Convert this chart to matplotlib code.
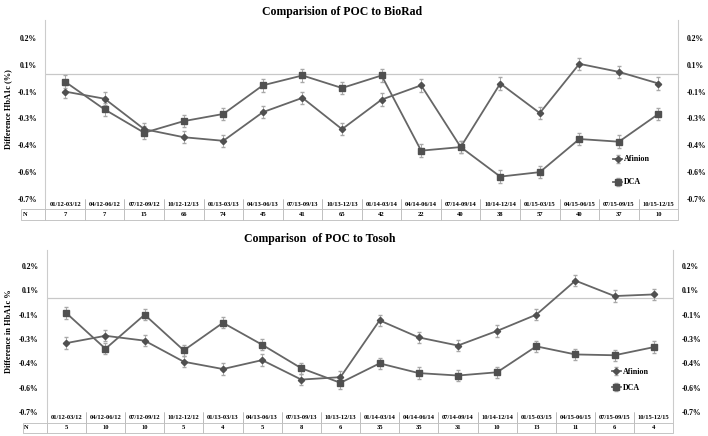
import matplotlib
matplotlib.use('Agg')
import matplotlib.pyplot as plt

# periodos (colunas da tabela)
periodos_biorad = ['01/12-03/12', '04/12-06/12', '07/12-09/12', '10/12-12/13', '01/13-03/13', '04/13-06/13',
                   '07/13-09/13', '10/13-12/13', '01/14-03/14', '04/14-06/14', '07/14-09/14', '10/14-12/14',
                   '01/15-03/15', '04/15-06/15', '07/15-09/15', '10/15-12/15']
periodos_tosoh = ['01/12-03/12', '04/12-06/12', '07/12-09/12', '10/12-12/12', '01/13-03/13', '04/13-06/13',
                  '07/13-09/13', '10/13-12/13', '01/14-03/14', '04/14-06/14', '07/14-09/14', '10/14-12/14',
                  '01/15-03/15', '04/15-06/15', '07/15-09/15', '10/15-12/15']

n_biorad = [7, 7, 15, 66, 74, 45, 41, 65, 42, 22, 40, 38, 57, 40, 37, 10]
n_tosoh = [5, 10, 10, 5, 4, 5, 8, 6, 35, 35, 31, 10, 13, 11, 6, 4]

# diferencas (%)
afinion_biorad = [-0.10, -0.14, -0.31, -0.355, -0.375, -0.215, -0.135, -0.31, -0.145, -0.065,
                  -0.41, -0.055, -0.22, 0.055, 0.01, -0.055]
dca_biorad = [-0.045, -0.20, -0.33, -0.265, -0.225, -0.065, -0.01, -0.08, -0.01, -0.43,
              -0.41, -0.575, -0.55, -0.365, -0.38, -0.225]
afinion_tosoh = [-0.275, -0.23, -0.26, -0.39, -0.435, -0.38, -0.50, -0.485, -0.135, -0.24,
                 -0.29, -0.20, -0.10, 0.11, 0.015, 0.025]
dca_tosoh = [-0.09, -0.31, -0.10, -0.32, -0.15, -0.285, -0.43, -0.52, -0.40, -0.46,
             -0.475, -0.455, -0.295, -0.345, -0.35, -0.30]
erro = 0.035

# valores dos ticks e os rotulos como aparecem no grafico
yticks = [0.2, 0.05, -0.1, -0.25, -0.4, -0.55, -0.7]
ytick_labels = ['0.2%', '0.1%', '-0.1%', '-0.3%', '-0.4%', '-0.6%', '-0.7%']

plt.rcParams['font.family'] = 'Liberation Serif'
plt.rcParams['font.weight'] = 'bold'

fig = plt.figure(figsize=(7.08, 4.36), dpi=100)

linha = '#666666'
marc = '#505050'


def painel(rect, afinion, dca, periodos, n, titulo, titulo_x, titulo_y, ylabel, leg_pos, leg_esp):
    ax = fig.add_axes(rect)
    x = list(range(len(periodos)))
    ax.axhline(0, color='#c8c8c8', lw=0.9, zorder=1)
    ax.errorbar(x, afinion, yerr=erro, color=linha, lw=1.3, marker='D', ms=3.2, mfc=marc, mec=marc,
                ecolor='#a8a8a8', elinewidth=0.7, capsize=1.2, label='Afinion', zorder=3)
    ax.errorbar(x, dca, yerr=erro, color=linha, lw=1.3, marker='s', ms=5, mfc=marc, mec=marc,
                ecolor='#a8a8a8', elinewidth=0.7, capsize=1.2, label='DCA', zorder=3)
    ax.set_xlim(-0.5, len(periodos) - 0.5)
    ax.set_ylim(-0.7, 0.3)
    ax.set_yticks(yticks)
    ax.set_yticklabels(ytick_labels)
    ax.tick_params(axis='y', length=0, labelsize=5.5, labelright=True, pad=6)
    ax.set_xticks([])
    for s in ['top', 'bottom']:
        ax.spines[s].set_visible(False)
    for s in ['left', 'right']:
        ax.spines[s].set_color('#cccccc')
        ax.spines[s].set_linewidth(0.8)
    ax.set_ylabel(ylabel, fontsize=6, fontweight='bold', labelpad=4)
    fig.text(titulo_x, titulo_y, titulo, fontsize=8.5, fontweight='bold', ha='center', va='center')

    # tabela com periodos e N
    h_px = rect[3] * 436
    w_px = rect[2] * 708
    extra = 24 / w_px
    larg = [extra] + [1 / len(periodos)] * len(periodos)
    tab = ax.table(cellText=[[''] + periodos, ['N'] + [str(v) for v in n]],
                   colWidths=larg, cellLoc='center',
                   bbox=[-extra, -21 / h_px, 1 + extra, 21 / h_px])
    tab.auto_set_font_size(False)
    tab.set_fontsize(4.7)
    for (r, c), cell in tab.get_celld().items():
        cell.set_edgecolor('#bbbbbb')
        cell.set_linewidth(0.6)
        cell.get_text().set_fontweight('bold')
        if r == 0:
            cell.visible_edges = '' if c == 0 else 'LR'
        if c == 0 and r == 1:
            cell.get_text().set_ha('left')
            cell.PAD = 0.05
    ax.legend(loc='lower left', bbox_to_anchor=leg_pos, frameon=False, fontsize=5.8,
              handlelength=1.2, handletextpad=0.2, labelspacing=leg_esp)
    return ax


painel([0.064, 0.5436, 0.894, 0.4106], afinion_biorad, dca_biorad, periodos_biorad, n_biorad,
       'Comparision of POC to BioRad', 0.483, 0.972, 'Difference HbA1c (%)', (0.885, 0.03), 1.85)
painel([0.066, 0.055, 0.885, 0.372], afinion_tosoh, dca_tosoh, periodos_tosoh, n_tosoh,
       'Comparison  of POC to Tosoh', 0.452, 0.452, 'Difference in HbA1c %', (0.89, 0.08), 1.0)

plt.savefig('out.png', dpi=100)
